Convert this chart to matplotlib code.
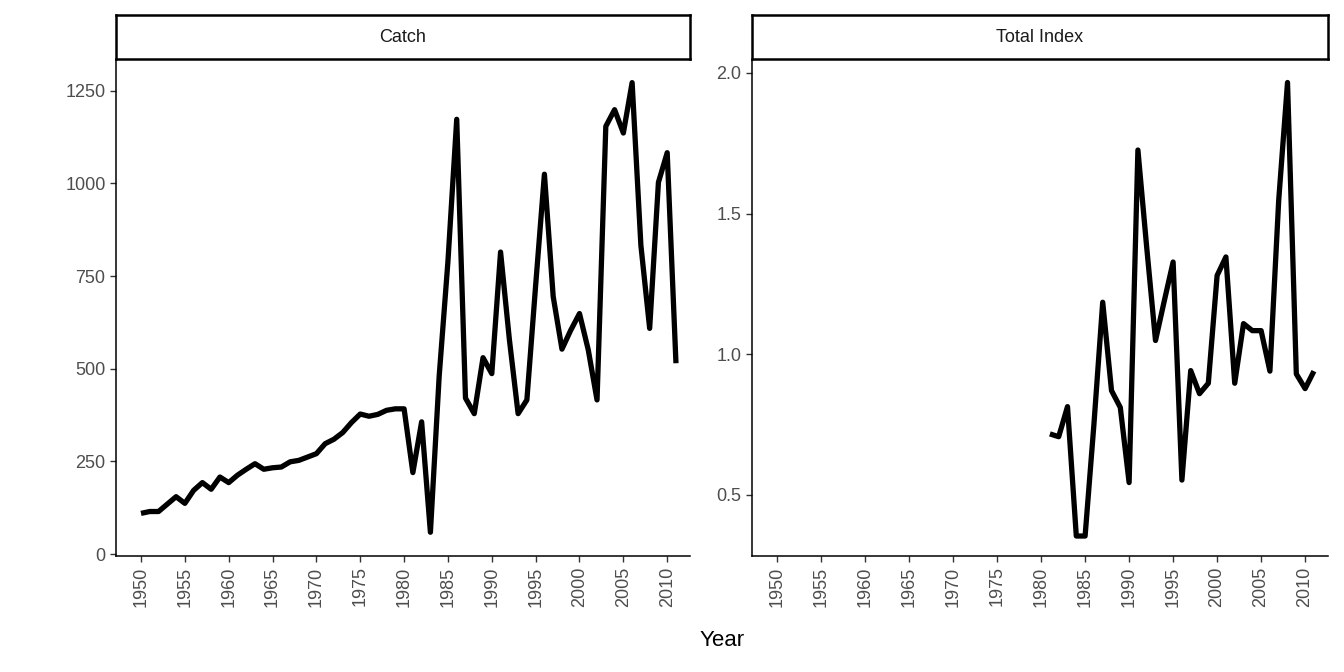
import numpy as np
import matplotlib
matplotlib.use("Agg")
import matplotlib.pyplot as plt

plt.rcParams['font.family'] = ['Liberation Sans', 'DejaVu Sans']

# -----------------------------
# Data
# -----------------------------
catch_years = list(range(1950, 2012))
catch_vals = [110, 115, 115, 135, 155, 137, 172, 193, 175, 208,
              193, 213, 229, 244, 229, 233, 235, 249, 253, 262,
              271, 298, 310, 328, 355, 378, 372, 377, 388, 392,
              392, 220, 357, 59, 480, 790, 1173, 421, 379, 530,
              487, 815, 580, 379, 416, 725, 1025, 695, 553, 604,
              649, 551, 416, 1154, 1199, 1136, 1272, 833, 609, 1003,
              1083, 515]

index_years = list(range(1981, 2012))
index_vals = [0.717, 0.707, 0.814, 0.354, 0.354, 0.75, 1.185, 0.871, 0.811, 0.544,
              1.726, 1.38, 1.049, 1.19, 1.328, 0.553, 0.942, 0.86, 0.897, 1.28,
              1.346, 0.897, 1.109, 1.084, 1.084, 0.94, 1.548, 1.966, 0.93, 0.878,
              0.94]

W, H = 1344, 672
fig = plt.figure(figsize=(W / 100, H / 100), dpi=100)

def px_axes(x0, y0, x1, y1):
    return fig.add_axes([x0 / W, 1 - y1 / H, (x1 - x0) / W, (y1 - y0) / H])

def panel(x0, x1, years, vals, ylim, yticks, ylabels, title):
    ax = px_axes(x0, 60, x1, 556)
    ax.plot(years, vals, color="black", lw=3.8, solid_capstyle="butt")
    ax.set_xlim(1947.15, 2012.6)
    ax.set_ylim(*ylim)
    ax.set_xticks(range(1950, 2011, 5))
    ax.set_xticklabels([str(y) for y in range(1950, 2011, 5)], rotation=90)
    ax.set_yticks(yticks)
    ax.set_yticklabels(ylabels)
    for s in ("top", "right"):
        ax.spines[s].set_visible(False)
    for s in ("left", "bottom"):
        ax.spines[s].set_linewidth(1.1)
    ax.tick_params(colors="#333333", labelcolor="#4d4d4d", labelsize=13, length=4, width=1)
    # strip
    sax = px_axes(x0, 15, x1, 59)
    sax.set_xticks([]); sax.set_yticks([])
    for s in sax.spines.values():
        s.set_linewidth(1.8)
    sax.text(0.5, 0.48, title, ha="center", va="center", fontsize=13, color="#1a1a1a",
             transform=sax.transAxes)
    return ax

panel(116, 690, catch_years, catch_vals, (-5, 1333),
      [0, 250, 500, 750, 1000, 1250], ["0", "250", "500", "750", "1000", "1250"], "Catch")
panel(752, 1328, index_years, index_vals, (0.283, 2.046),
      [0.5, 1.0, 1.5, 2.0], ["0.5", "1.0", "1.5", "2.0"], "Total Index")

fig.text(722 / W, 1 - 641 / H, "Year", ha="center", va="center", fontsize=16)

fig.savefig("out.png", dpi=100)
